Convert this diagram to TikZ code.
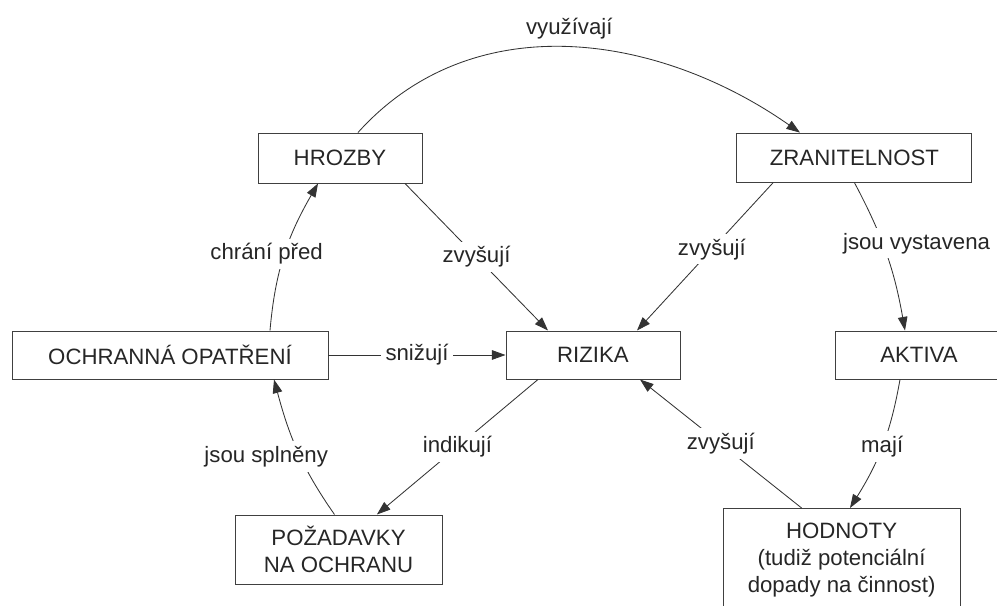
\documentclass[tikz,border=0pt]{standalone}
\usepackage{fontspec}
\setmainfont{Liberation Sans}
\usetikzlibrary{arrows.meta}

\begin{document}
\begin{tikzpicture}[
    >={Triangle[length=0.34cm, width=0.24cm]},
    box/.style={
        draw=black!75, rectangle, line width=0.7pt, align=center,
        text=black!85, font=\fontsize{15.8}{19.5}\selectfont, inner sep=0pt
    },
    link/.style={->, line width=0.6pt, draw=black!80},
    lbl/.style={fill=white, text=black!85, font=\fontsize{15.8}{19.5}\selectfont, inner sep=0.12cm}
]

\useasboundingbox (0, 0) rectangle (24.925, 15.15);

% -------------------------
% Boxes
% -------------------------

% Top row
\node[box, minimum width=4.1cm, minimum height=1.25cm] (Hrozby) at (8.5, 11.2) {HROZBY};
\node[box, minimum width=5.875cm, minimum height=1.225cm] (Zranitelnost) at (21.36, 11.21) {ZRANITELNOST};

% Middle row
\node[box, minimum width=7.9cm, minimum height=1.2cm] (Opatreni) at (4.25, 6.275) {OCHRANNÁ OPATŘENÍ};
\node[box, minimum width=4.35cm, minimum height=1.2cm] (Rizika) at (14.825, 6.275) {RIZIKA};
\node[box, minimum width=4.2cm, minimum height=1.2cm] (Aktiva) at (22.975, 6.275) {AKTIVA};

% Bottom row
\node[box, minimum width=5.175cm, minimum height=1.725cm] (Pozadavky) at (8.4625, 1.4125) {POŽADAVKY\\NA OCHRANU};
\node[box, minimum width=5.925cm, minimum height=2.575cm] (Hodnoty) at (21.04, 1.15) {HODNOTY\\(tudiž potenciální\\dopady na činnost)};

% -------------------------
% Connections
% -------------------------

% Hrozby -> Zranitelnost (arc over the top)
\draw[link] ([xshift=0.45cm]Hrozby.north) to[out=48, in=145]
    node[midway, above=0.08cm, lbl] {využívají} ([xshift=-1.36cm]Zranitelnost.north);

% Hrozby -> Rizika
\draw[link] ([xshift=1.625cm]Hrozby.south) -- ([xshift=-1.125cm]Rizika.north)
    node[midway, lbl] {zvyšují};

% Zranitelnost -> Rizika
\draw[link] ([xshift=-2.03cm]Zranitelnost.south) -- ([xshift=1.1cm]Rizika.north)
    node[pos=0.45, lbl] {zvyšují};

% Zranitelnost -> Aktiva
\draw[link] (Zranitelnost.south) to[out=-62, in=100]
    node[pos=0.42, xshift=0.85cm, lbl] {jsou vystavena} ([xshift=-0.35cm]Aktiva.north);

% Opatreni -> Rizika
\draw[link] (Opatreni.east) -- (Rizika.west)
    node[midway, lbl] {snižují};

% Opatreni -> Hrozby
\draw[link] ([xshift=2.5cm]Opatreni.north) to[out=85, in=-120]
    node[midway, xshift=-0.45cm, lbl] {chrání před} ([xshift=-0.55cm]Hrozby.south);

% Pozadavky -> Opatreni
\draw[link] ([xshift=-0.1cm]Pozadavky.north) to[out=125, in=-75]
    node[pos=0.45, xshift=-0.85cm, lbl] {jsou splněny} ([xshift=2.6cm]Opatreni.south);

% Rizika -> Pozadavky
\draw[link] ([xshift=-1.375cm]Rizika.south) -- ([xshift=0.96cm]Pozadavky.north)
    node[midway, lbl] {indikují};

% Hodnoty -> Rizika
\draw[link] ([xshift=-1cm]Hodnoty.north) -- ([xshift=1.175cm]Rizika.south)
    node[midway, lbl] {zvyšují};

% Aktiva -> Hodnoty
\draw[link] ([xshift=-0.475cm]Aktiva.south) to[out=-100, in=58]
    node[midway, lbl] {mají} ([xshift=0.21cm]Hodnoty.north);

\end{tikzpicture}
\end{document}
